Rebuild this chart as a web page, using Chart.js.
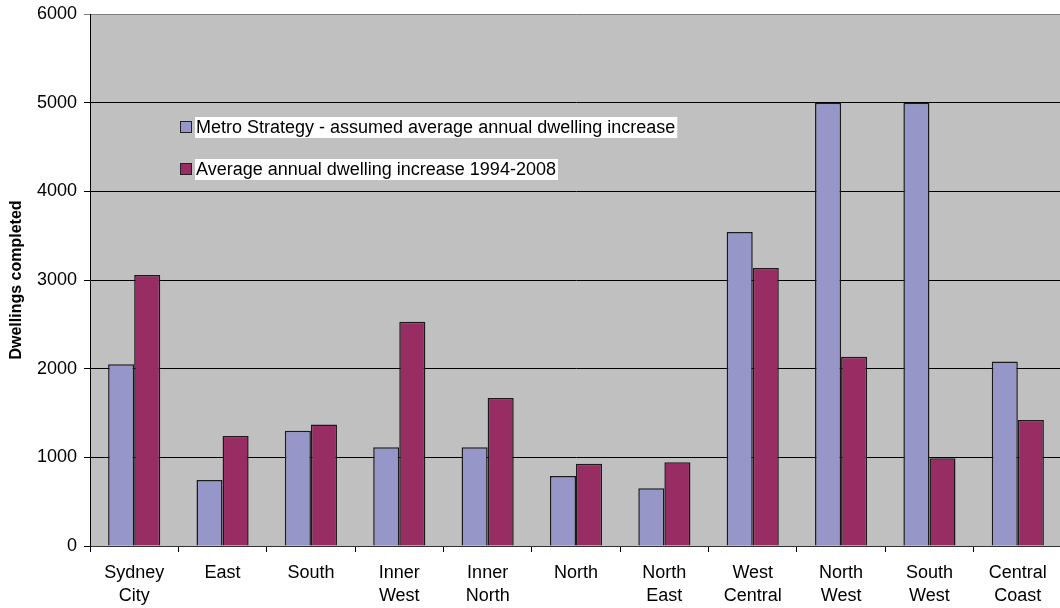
<!DOCTYPE html>
<html>
<head>
<meta charset="utf-8">
<script src="https://cdn.jsdelivr.net/npm/chart.js@4"></script>
<style>
  html, body { margin: 0; padding: 0; background: #fff; overflow: hidden; }
  #wrap { width: 1062px; height: 608px; }
</style>
</head>
<body>
<div id="wrap"><canvas id="chart" width="1062" height="608"></canvas></div>
<script>
// regions (two-line labels)
const regions = [
    ['Sydney', 'City'], 'East', 'South', ['Inner', 'West'], ['Inner', 'North'],
    'North', ['North', 'East'], ['West', 'Central'], ['North', 'West'], ['South', 'West'], ['Central', 'Coast']
];
const metroStrategy = [2050, 745, 1300, 1115, 1115, 790, 650, 3540, 5000, 5000, 2080];
const avgIncrease = [3055, 1240, 1370, 2530, 1670, 928, 944, 3135, 2135, 990, 1420];
const yTicks = [0, 1000, 2000, 3000, 4000, 5000, 6000];

const FONT = '"Liberation Sans", Arial, sans-serif';

// fond gris de la zone de tracé
const plotBg = {
    id: 'plotBg',
    beforeDraw(chart) {
        const a = chart.chartArea;
        const ctx = chart.ctx;
        ctx.save();
        ctx.fillStyle = '#c0c0c0';
        ctx.fillRect(a.left, a.top, a.right - a.left, a.bottom - a.top);
        ctx.restore();
    }
};

// légende placée dans le graphique, texte sur fond blanc
const innerLegend = {
    id: 'innerLegend',
    afterDraw(chart) {
        const ctx = chart.ctx;
        ctx.save();
        ctx.font = '18px ' + FONT;
        ctx.textBaseline = 'middle';
        chart.data.datasets.forEach((ds, i) => {
            const y = 127 + i * 42;
            const w = ctx.measureText(ds.label).width;
            ctx.fillStyle = '#fff';
            ctx.fillRect(195, y - 10, w + 3, 21);
            ctx.fillStyle = ds.backgroundColor;
            ctx.fillRect(180.5, y - 5.5, 11, 11);
            ctx.strokeStyle = '#222';
            ctx.lineWidth = 1;
            ctx.strokeRect(180.5, y - 5.5, 11, 11);
            ctx.fillStyle = '#000';
            ctx.fillText(ds.label, 196, y + 1);
        });
        ctx.restore();
    }
};

new Chart(document.getElementById('chart'), {
    type: 'bar',
    data: {
        labels: regions,
        datasets: [{
            label: 'Metro Strategy - assumed average annual dwelling increase',
            data: metroStrategy,
            backgroundColor: '#9696c8',
            borderColor: '#1a1a1a',
            borderWidth: 1.5
        }, {
            label: 'Average annual dwelling increase 1994-2008',
            data: avgIncrease,
            backgroundColor: '#972d62',
            borderColor: '#1a1a1a',
            borderWidth: 1.5
        }]
    },
    options: {
        responsive: false,
        animation: false,
        layout: { padding: { top: 14, right: 0, bottom: 0, left: 0 } },
        datasets: { bar: { categoryPercentage: 0.59, barPercentage: 1 } },
        plugins: {
            legend: { display: false },
            tooltip: { enabled: false }
        },
        scales: {
            x: {
                grid: { drawOnChartArea: false, tickLength: 6, color: '#000', offset: true },
                border: { color: '#333' },
                ticks: {
                    color: '#000',
                    font: { family: FONT, size: 18, lineHeight: 1.25 },
                    padding: 10,
                    maxRotation: 0,
                    autoSkip: false
                },
                afterFit(s) { s.height = 62; }
            },
            y: {
                min: 0,
                max: 6000,
                afterBuildTicks(s) { s.ticks = yTicks.map(v => ({ value: v })); },
                grid: {
                    color: ctx => (ctx.tick && ctx.tick.value === 6000) ? '#808080' : '#000',
                    tickLength: 6
                },
                border: { color: '#000' },
                ticks: {
                    color: '#000',
                    font: { family: FONT, size: 18 },
                    padding: 7,
                    callback: v => String(v)
                },
                title: {
                    display: true,
                    text: 'Dwellings completed',
                    color: '#000',
                    font: { family: FONT, size: 16, weight: 'bold' },
                    padding: { top: 7, bottom: 0 }
                },
                afterFit(s) { s.width = 90; s.paddingTop = 0; s.paddingBottom = 0; }
            }
        }
    },
    plugins: [plotBg, innerLegend]
});
</script>
</body>
</html>
